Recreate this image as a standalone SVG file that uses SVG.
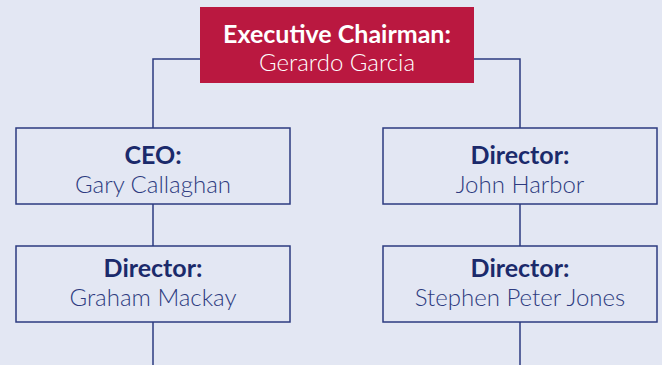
<svg xmlns="http://www.w3.org/2000/svg" width="662" height="365" viewBox="0 0 662 365">
  <style>
    .bg { fill: #E3E7F3; }
    .box { fill: #E3E7F3; stroke: #2D3B80; stroke-width: 1.5; }
    .head { fill: #BA1840; }
    .wire { fill: none; stroke: #2D3B80; stroke-width: 1.5; }
    .title { font-family: Lato, "Liberation Sans", sans-serif; font-weight: 700; font-size: 25px; fill: #1B2A6B; text-anchor: middle; }
    .name { font-family: Lato, "Liberation Sans", sans-serif; font-weight: 300; font-size: 24px; fill: #2D3B80; text-anchor: middle; }
    .w { fill: #FFFFFF; }
  </style>
  <rect class="bg" x="0" y="0" width="662" height="365"/>

  <g id="connectors">
    <path class="wire" d="M200 59 H153 V128"/>
    <path class="wire" d="M474 59 H520 V128"/>
    <path class="wire" d="M153 204 V246"/>
    <path class="wire" d="M520 204 V246"/>
    <path class="wire" d="M153 322 V365"/>
    <path class="wire" d="M520 322 V365"/>
  </g>

  <g id="chairman">
    <rect class="head" x="200" y="7" width="274" height="76"/>
    <text class="title w" x="337" y="43">Executive Chairman:</text>
    <text class="name w" x="337" y="71">Gerardo Garcia</text>
  </g>

  <g id="ceo">
    <rect class="box" x="16" y="128" width="274" height="76"/>
    <text class="title" x="153" y="164">CEO:</text>
    <text class="name" x="153" y="193">Gary Callaghan</text>
  </g>

  <g id="director-harbor">
    <rect class="box" x="383" y="128" width="274" height="76"/>
    <text class="title" x="520" y="164">Director:</text>
    <text class="name" x="520" y="193">John Harbor</text>
  </g>

  <g id="director-mackay">
    <rect class="box" x="16" y="246" width="274" height="76"/>
    <text class="title" x="153" y="277">Director:</text>
    <text class="name" x="153" y="306">Graham Mackay</text>
  </g>

  <g id="director-jones">
    <rect class="box" x="383" y="246" width="274" height="76"/>
    <text class="title" x="520" y="277">Director:</text>
    <text class="name" x="520" y="306">Stephen Peter Jones</text>
  </g>
</svg>
